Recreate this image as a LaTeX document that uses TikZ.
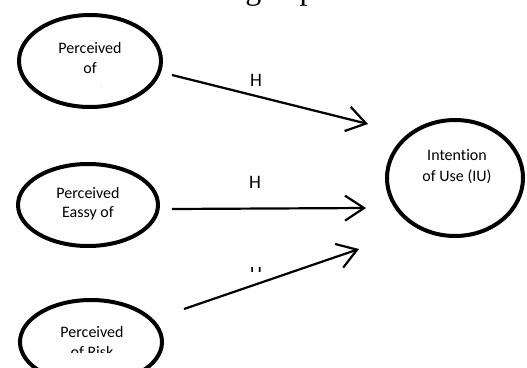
\documentclass[tikz,border=0pt]{standalone}
\usepackage{fontspec}
\setmainfont[Ligatures=NoCommon]{Carlito}
\newfontfamily\titlefont{Liberation Serif}
\usetikzlibrary{arrows.meta}
\tikzset{
  lbl/.style={font=\fontsize{16}{20}\selectfont, inner sep=0pt, anchor=base},
  hyp/.style={font=\fontsize{19}{22}\selectfont, inner sep=0pt, anchor=base},
  ring/.style={line width=4pt},
  link/.style={line width=2.2pt, -{Straight Barb[length=19pt,width=25pt,line width=2.2pt]}},
}
\begin{document}
\begin{tikzpicture}[x=1pt,y=-1pt]
\useasboundingbox (0,0) rectangle (527,367);
\clip (0,0) rectangle (527,367);
% title fragment (only descenders visible)
\node[inner sep=0pt, anchor=base west, font=\titlefont\fontsize{32}{36}\selectfont] (title) at (167,-0.5) {Kerangka pemikiran};
% ellipses
\draw[ring] (90,61) ellipse [x radius=71, y radius=46];
\draw[ring] (88,205) ellipse [x radius=70, y radius=41];
\draw[ring] (91,342) ellipse [x radius=71, y radius=42];
\draw[ring] (455,178) ellipse [x radius=68, y radius=58];
% texts
\node[lbl] (pu1) at (90,53) {Perceived};
\node[lbl] (pu2) at (90,73) {of};
\begin{scope}
\clip (0,0) rectangle (527,86);
\node[lbl] (pu3) at (97,98.5) {Usefulness};
\end{scope}
\node[lbl] (pe1) at (88,198) {Perceived};
\node[lbl] (pe2) at (88,217) {Eassy of};
\node[lbl] (pr1) at (92,337) {Perceived};
\begin{scope}
\clip (0,0) rectangle (527,352);
\node[lbl] (pr2) at (92,357) {of Risk};
\end{scope}
\node[lbl] (iu1) at (457,160) {Intention};
\node[lbl] (iu2) at (457,181) {of Use (IU)};
% hypothesis labels
\node[hyp] (h1) at (256,86) {H};
\node[hyp] (h2) at (255,188) {H};
\begin{scope}
\clip (0,267.8) rectangle (527,400);
\node[hyp] (h3) at (256,272.5) {H};
\end{scope}
% connectors
\coordinate (a1s) at (172,75);
\coordinate (a1e) at (368,124);
\coordinate (a2s) at (172,209);
\coordinate (a2e) at (366,208);
\coordinate (a3s) at (184,309);
\coordinate (a3e) at (359,249);
\draw[link] (a1s) -- (a1e);
\draw[link] (a2s) -- (a2e);
\draw[link] (a3s) -- (a3e);
\end{tikzpicture}
\end{document}
